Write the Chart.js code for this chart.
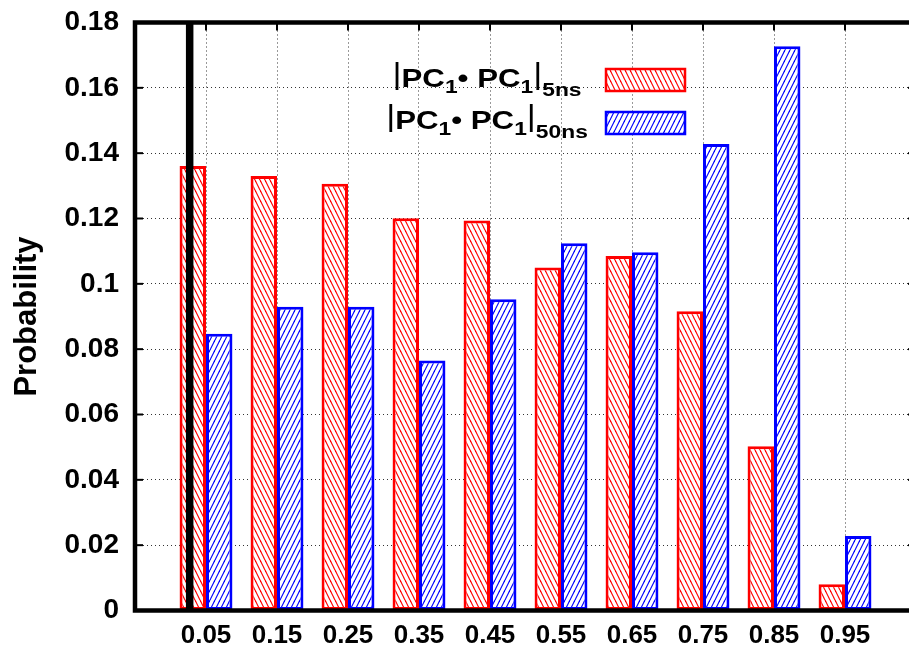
<!DOCTYPE html>
<html>
<head>
<meta charset="utf-8">
<script src="https://cdn.jsdelivr.net/npm/chart.js@4.4.1/dist/chart.umd.min.js"></script>
<style>
html,body{margin:0;padding:0;background:#fff;overflow:hidden;width:909px;height:647px}
#wrap{position:relative;width:925px;height:647px}
</style>
</head>
<body>
<div id="wrap"><canvas id="c" width="925" height="647"></canvas></div>
<script>
// ---- data ----
const categories = ['0.05','0.15','0.25','0.35','0.45','0.55','0.65','0.75','0.85','0.95'];
const series5ns  = [0.1361,0.1330,0.1306,0.1201,0.1194,0.1050,0.1085,0.0916,0.0503,0.0080];
const series50ns = [0.0847,0.0930,0.0930,0.0765,0.0953,0.1124,0.1097,0.1428,0.1727,0.0228];
const yTickValues = [0,0.02,0.04,0.06,0.08,0.10,0.12,0.14,0.16,0.18];
const yTickLabels = ['0','0.02','0.04','0.06','0.08','0.1','0.12','0.14','0.16','0.18'];
const markerX = 0.027;   // thick vertical reference line
const yTitle = 'Probability';

const FONT = '"Liberation Sans", Arial, Helvetica, sans-serif';
const RED = '#ff0000', BLUE = '#0000ff';

const canvas = document.getElementById('c');
const ctx0 = canvas.getContext('2d');

function hatch(color, dir) {
  const w = 5, h = 10;
  const c = document.createElement('canvas');
  c.width = w; c.height = h;
  const g = c.getContext('2d');
  g.fillStyle = '#fff'; g.fillRect(0, 0, w, h);
  g.strokeStyle = color; g.lineWidth = 1.2;
  for (let k = -1; k <= 1; k++) {
    g.beginPath();
    if (dir > 0) { g.moveTo(k * w, 0); g.lineTo(k * w + w, h); }
    else { g.moveTo(k * w + w, 0); g.lineTo(k * w, h); }
    g.stroke();
  }
  return ctx0.createPattern(c, 'repeat');
}
const redPattern = hatch(RED, 1);    // "\\\"
const bluePattern = hatch(BLUE, -1); // "///"

const toPoints = arr => categories.map((c, i) => ({ x: parseFloat(c), y: arr[i] }));

const legendRows = [
  { fill: redPattern, stroke: RED, sub: '5ns' },
  { fill: bluePattern, stroke: BLUE, sub: '50ns' }
];

const framePlugin = {
  id: 'frame',
  afterDatasetsDraw(chart) {
    const { ctx, chartArea: a, scales: { x, y } } = chart;
    ctx.save();
    const mx = x.getPixelForValue(markerX);
    ctx.strokeStyle = '#000';
    ctx.lineWidth = 7.5;
    ctx.beginPath(); ctx.moveTo(mx, a.top); ctx.lineTo(mx, a.bottom); ctx.stroke();
    ctx.lineWidth = 2;
    const seg = (x1, y1, x2, y2) => { ctx.beginPath(); ctx.moveTo(x1, y1); ctx.lineTo(x2, y2); ctx.stroke(); };
    y.ticks.forEach(t => {
      const py = y.getPixelForValue(t.value);
      seg(a.left, py, a.left + 8, py);
      seg(a.right, py, a.right - 8, py);
    });
    x.ticks.forEach(t => {
      const px = x.getPixelForValue(t.value);
      seg(px, a.top, px, a.top + 8);
    });
    ctx.lineWidth = 4.5;
    ctx.strokeRect(a.left, a.top, a.right - a.left, a.bottom - a.top);

    // legend
    const sx = 1.2;
    const centerX = 487;
    const baselines = [87, 129];
    legendRows.forEach((row, r) => {
      const segs = [
        { t: '|', f: '29px ' + FONT, dy: -3 },
        { t: 'PC', f: 'bold 26px ' + FONT, dy: 0 },
        { t: '1', f: 'bold 19px ' + FONT, dy: 6 },
        { t: '\u2022 PC', f: 'bold 26px ' + FONT, dy: 0 },
        { t: '1', f: 'bold 19px ' + FONT, dy: 6 },
        { t: '|', f: '29px ' + FONT, dy: -3 },
        { t: row.sub, f: 'bold 19px ' + FONT, dy: 9 }
      ];
      let total = 0;
      segs.forEach(s => { ctx.font = s.f; s.w = ctx.measureText(s.t).width; total += s.w; });
      ctx.save();
      ctx.translate(centerX, baselines[r]);
      ctx.scale(sx, 1);
      ctx.fillStyle = '#000';
      ctx.textBaseline = 'alphabetic';
      ctx.textAlign = 'left';
      let cx = -total / 2;
      segs.forEach(s => { ctx.font = s.f; ctx.fillText(s.t, cx, s.dy); cx += s.w; });
      ctx.restore();
      const bx = 606, by = 69 + r * 43, bw = 79, bh = 22;
      ctx.fillStyle = row.fill;
      ctx.fillRect(bx, by, bw, bh);
      ctx.strokeStyle = row.stroke;
      ctx.lineWidth = 2.5;
      ctx.strokeRect(bx, by, bw, bh);
    });
    ctx.restore();
  }
};

new Chart(canvas, {
  type: 'bar',
  data: {
    datasets: [
      { label: '|PC1\u2022 PC1|5ns', data: toPoints(series5ns), backgroundColor: redPattern,
        borderColor: RED, borderWidth: 3, borderSkipped: false },
      { label: '|PC1\u2022 PC1|50ns', data: toPoints(series50ns), backgroundColor: bluePattern,
        borderColor: BLUE, borderWidth: 3, borderSkipped: false }
    ]
  },
  options: {
    responsive: false,
    animation: false,
    devicePixelRatio: 1,
    layout: { padding: { top: 22.5, right: 9, bottom: 0, left: 0 } },
    datasets: { bar: { categoryPercentage: 0.745, barPercentage: 1.0 } },
    plugins: { legend: { display: false }, tooltip: { enabled: false } },
    scales: {
      x: {
        type: 'linear',
        min: -0.05, max: 1.05,
        offset: false,
        afterBuildTicks: s => { s.ticks = categories.map(c => ({ value: parseFloat(c) })); },
        afterFit: s => { s.height = 36.5; s.paddingLeft = 0; s.paddingRight = 0; },
        ticks: {
          autoSkip: false, maxRotation: 0, padding: 10,
          color: '#000', font: { family: FONT, size: 26, weight: 'bold' },
          callback: (v, i) => categories[i]
        },
        grid: { offset: false, drawTicks: false, color: 'rgba(0,0,0,0.8)', lineWidth: 1 },
        border: { display: false, dash: [1, 3] }
      },
      y: {
        min: 0, max: 0.18,
        afterBuildTicks: s => { s.ticks = yTickValues.map(v => ({ value: v })); },
        afterFit: s => { s.width = 135; s.paddingTop = 0; s.paddingBottom = 0; },
        ticks: {
          padding: 16, color: '#000', font: { family: FONT, size: 28, weight: 'bold' },
          callback: (v, i) => yTickLabels[i]
        },
        grid: { drawTicks: false, color: 'rgba(0,0,0,0.8)', lineWidth: 1 },
        border: { display: false, dash: [1, 3] },
        title: { display: true, text: yTitle, color: '#000', padding: { top: 9, bottom: 0 },
                 font: { family: FONT, size: 31, weight: 'bold' } }
      }
    }
  },
  plugins: [framePlugin]
});
</script>
</body>
</html>
